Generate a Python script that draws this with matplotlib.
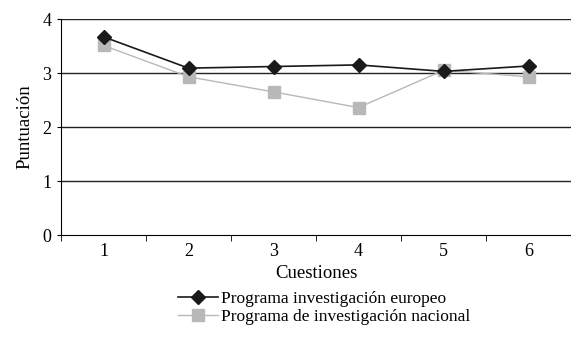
import matplotlib.pyplot as plt
import numpy as np

plt.rcParams['font.family'] = ['Liberation Serif', 'DejaVu Serif']

cuestiones = [1, 2, 3, 4, 5, 6]
europeo = [3.67, 3.09, 3.12, 3.15, 3.03, 3.13]
nacional = [3.51, 2.93, 2.65, 2.36, 3.05, 2.93]

fig = plt.figure(figsize=(5.71, 3.43), dpi=100)
ax = fig.add_axes([61 / 571, 1 - 235 / 343, 510 / 571, 216 / 343])

x = np.arange(len(cuestiones))
ax.plot(x, nacional, color="#b8b8ba", marker="s", markersize=8, linewidth=1,
        label="Programa de investigación nacional", zorder=3)
ax.plot(x, europeo, color="#1a1a1a", marker="D", markersize=7, linewidth=1.2,
        label="Programa investigación europeo", zorder=4)

ax.set_xlim(-0.5, len(cuestiones) - 0.5)
ax.set_ylim(0, 4)
ax.set_yticks([0, 1, 2, 3, 4])
for v in [1, 2, 3, 4]:
    ax.axhline(v, color="#222222", linewidth=1, zorder=1)

ax.set_xticks(x)
ax.set_xticklabels(cuestiones)
ax.set_xticks(np.arange(-0.5, len(cuestiones)), minor=True)
ax.tick_params(axis="x", which="major", length=0, labelsize=13, pad=6)
ax.tick_params(axis="x", which="minor", length=4, direction="out")
ax.tick_params(axis="y", length=3, labelsize=13, direction="out", pad=4)

ax.spines["top"].set_visible(False)
ax.spines["right"].set_visible(False)

ax.set_xlabel("Cuestiones", fontsize=13.5, labelpad=3)
ax.set_ylabel("Puntuación", fontsize=13.5, labelpad=6)

handles, labels = ax.get_legend_handles_labels()
fig.legend(handles[::-1], labels[::-1], loc="upper left", bbox_to_anchor=(178 / 571, 1 - 291 / 343),
           frameon=False, fontsize=12.5, handlelength=2.3, handletextpad=0.2,
           labelspacing=0.08, borderpad=0, borderaxespad=0)

fig.savefig("out.png", dpi=100)
